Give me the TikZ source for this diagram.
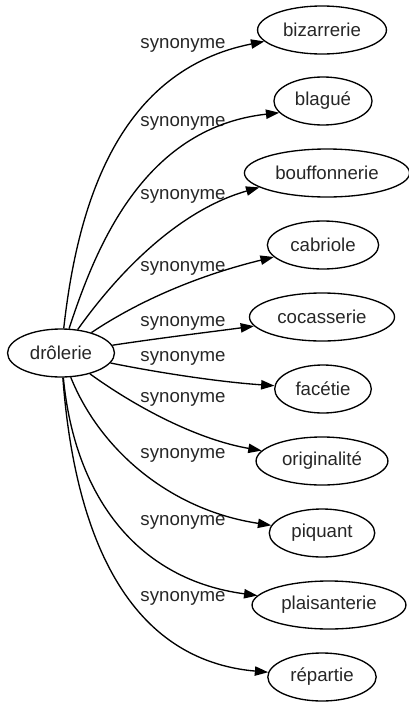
\documentclass[tikz,border=0pt]{standalone}
\usepackage{fontspec}
\setmainfont{Liberation Sans}
\usetikzlibrary{arrows.meta,shapes.geometric}
\begin{document}
\begin{tikzpicture}[x=0.75pt,y=-0.75pt,
  word/.style={draw,ellipse,line width=1pt,minimum height=36pt,inner xsep=5pt,inner ysep=2pt,
    font=\fontsize{14pt}{16pt}\selectfont,text=black!85},
  rel/.style={font=\fontsize{14pt}{16pt}\selectfont,text=black!85,inner sep=1pt},
  link/.style={line width=1pt,-{Triangle[length=10pt,width=7pt]}}]
\useasboundingbox (0,0) rectangle (409,707);
\node[word] (d) at (61,353) {drôlerie};
\node[word] (n1) at (322,30) {bizarrerie};
\node[word] (n2) at (323,101) {blagué};
\node[word] (n3) at (327,173) {bouffonnerie};
\node[word] (n4) at (323,245) {cabriole};
\node[word] (n5) at (322,317) {cocasserie};
\node[word] (n6) at (323,389) {facétie};
\node[word] (n7) at (322,461) {originalité};
\node[word] (n8) at (322,533) {piquant};
\node[word] (n9) at (329,605) {plaisanterie};
\node[word] (n10) at (322,677) {répartie};
\node[rel] (l1) at (183,45) {synonyme};
\node[rel] (l2) at (183,123) {synonyme};
\node[rel] (l3) at (183,196) {synonyme};
\node[rel] (l4) at (183,268) {synonyme};
\node[rel] (l5) at (183,323) {synonyme};
\node[rel] (l6) at (183,358) {synonyme};
\node[rel] (l7) at (183,399) {synonyme};
\node[rel] (l8) at (183,455) {synonyme};
\node[rel] (l9) at (183,522) {synonyme};
\node[rel] (l10) at (183,598) {synonyme};
\draw[link] (d) .. controls (78,200) and (120,70) .. (n1);
\draw[link] (d) .. controls (95,250) and (142,128) .. (n2.195);
\draw[link] (d) .. controls (120,270) and (180,210) .. (n3.192);
\draw[link] (d) .. controls (140,300) and (200,275) .. (n4);
\draw[link] (d) .. controls (160,338) and (210,332) .. (n5);
\draw[link] (d) .. controls (160,373) and (220,382) .. (n6);
\draw[link] (d) .. controls (140,410) and (200,440) .. (n7);
\draw[link] (d) .. controls (100,450) and (170,510) .. (n8);
\draw[link] (d) .. controls (75,500) and (140,580) .. (n9);
\draw[link] (d) .. controls (75,540) and (130,660) .. (n10);
\end{tikzpicture}
\end{document}
